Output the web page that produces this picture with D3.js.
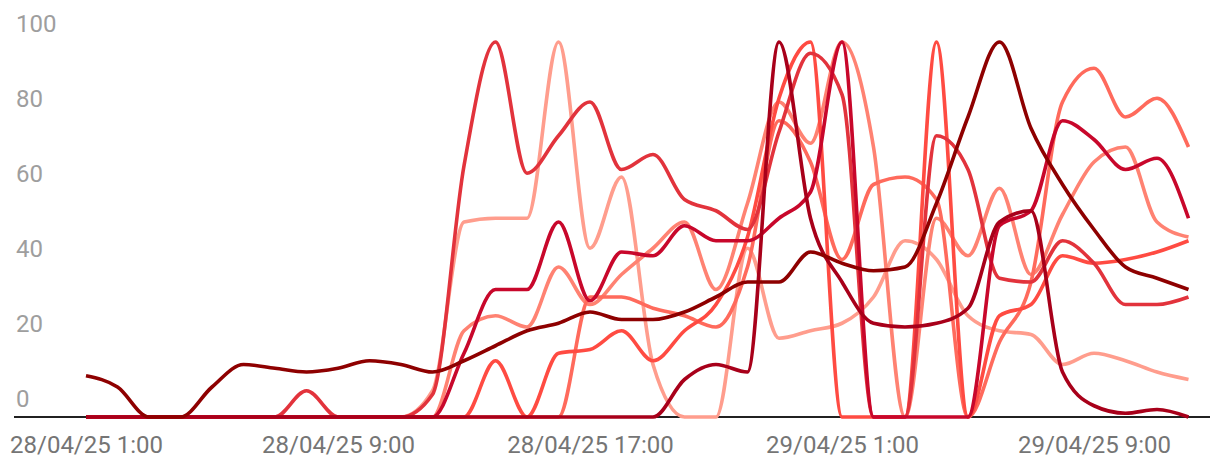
<!DOCTYPE html>
<html>
<head>
<meta charset="utf-8">
<script src="https://cdn.jsdelivr.net/npm/d3@7"></script>
<style>
  body { margin: 0; background: #fff; }
  svg { display: block; font-family: Roboto, "Noto Sans", sans-serif; }
</style>
</head>
<body>
<svg id="chart" width="1220" height="468"></svg>
<script>
// hourly readings, 28/04/25 1:00 -> 29/04/25 12:00
const times = d3.range(36).map(i => new Date(2025, 3, 28, 1 + i));
const xTicks = [new Date(2025, 3, 28, 1), new Date(2025, 3, 28, 9), new Date(2025, 3, 28, 17),
                new Date(2025, 3, 29, 1), new Date(2025, 3, 29, 9)];
const yTicks = [0, 20, 40, 60, 80, 100];

const lightSalmon = [0,0,0,0,0,0,0,0,0,0,0,7,52,53,53,100,45,64,14,0,0,45,21,23,25,32,47,42,27,23,22,14,17,15,12,10];
const salmon      = [0,0,0,0,0,0,0,0,0,0,0,0,23,27,24,40,30,38,45,52,34,57,84,73,100,72,0,53,43,61,38,54,68,72,52,48];
const coral       = [0,0,0,0,0,0,0,0,0,0,0,0,0,0,0,0,32,32,29,27,24,40,79,68,42,62,64,58,0,20,36,84,93,80,85,72];
const coralRed    = [0,0,0,0,0,0,0,0,0,0,0,0,0,15,0,17,18,23,15,23,30,48,85,100,0,0,0,100,0,27,30,43,41,42,44,47];
const red         = [0,0,0,0,0,0,0,7,0,0,0,6,67,100,65,75,84,66,70,58,55,50,76,97,86,0,0,75,66,37,36,47,41,30,30,32];
const crimson     = [0,0,0,0,0,0,0,0,0,0,0,0,17,34,34,52,31,44,43,51,47,47,53,60,100,0,0,0,0,51,55,79,74,66,69,53];
const spike       = [0,0,0,0,0,0,0,0,0,0,0,0,0,0,0,0,0,0,0,10,14,12,100,53,36,25,24,25,29,52,55,12,3,1,2,0];
const darkRed     = [11,8,0,0,8,14,13,12,13,15,14,12,15,19,23,25,28,26,26,28,32,36,36,44,41,39,40,57,80,100,77,62,50,40,37,34];

const series = [
  { values: lightSalmon, color: "#ff9d8d" },
  { values: salmon,      color: "#ff8272" },
  { values: coral,       color: "#ff6a5c" },
  { values: coralRed,    color: "#ff4b42" },
  { values: red,         color: "#e2333c" },
  { values: crimson,     color: "#c8072b" },
  { values: spike,       color: "#a8001a" },
  { values: darkRed,     color: "#8e0000" }
];

const svg = d3.select("#chart");

const x = d3.scaleTime().domain([times[0], times[times.length - 1]]).range([86, 1188.5]);
const y = d3.scaleLinear().domain([0, 100]).range([417, 42]);

// y labels sit just above their (invisible) grid lines
svg.append("g")
  .selectAll("text")
  .data(yTicks)
  .join("text")
  .attr("x", 16)
  .attr("y", d => y(d) - 10)
  .attr("fill", "#9e9e9e")
  .style("font-size", "24px")
  .text(d => d);

// x axis labels
const xAxis = d3.axisBottom(x)
  .tickValues(xTicks)
  .tickFormat(d3.timeFormat("%d/%m/%y %-H:%M"))
  .tickSize(0)
  .tickPadding(19);

const gx = svg.append("g")
  .attr("transform", "translate(0,417)")
  .call(xAxis);
gx.select(".domain").remove();
gx.selectAll("text")
  .attr("fill", "#757575")
  .style("font-size", "24px")
  .style("font-family", "Roboto, 'Noto Sans', sans-serif");

// baseline
svg.append("line")
  .attr("x1", 14).attr("x2", 1210)
  .attr("y1", y(0)).attr("y2", y(0))
  .attr("stroke", "#212121")
  .attr("stroke-width", 2);

const line = d3.line()
  .x((d, i) => x(times[i]))
  .y(d => y(d))
  .curve(d3.curveMonotoneX);

svg.append("g")
  .selectAll("path")
  .data(series)
  .join("path")
  .attr("d", d => line(d.values))
  .attr("fill", "none")
  .attr("stroke", d => d.color)
  .attr("stroke-width", 3.6)
  .attr("stroke-linejoin", "round");
</script>
</body>
</html>
